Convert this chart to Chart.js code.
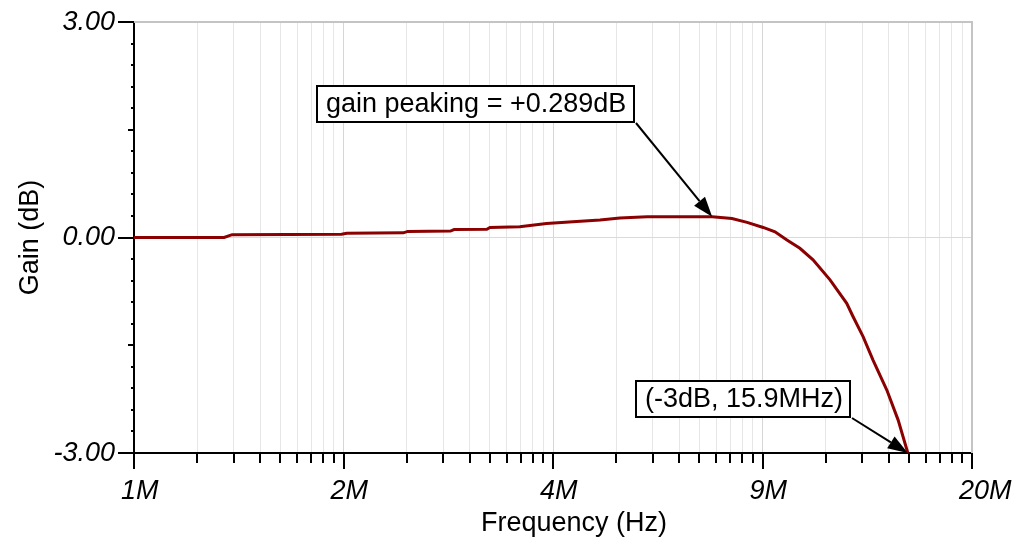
<!DOCTYPE html>
<html>
<head>
<meta charset="utf-8">
<script src="https://cdn.jsdelivr.net/npm/chart.js@4.4.1/dist/chart.umd.min.js"></script>
<style>
  html, body { margin: 0; padding: 0; background: #ffffff; }
  #wrap { width: 1025px; height: 544px; }
</style>
</head>
<body>
<div id="wrap"><canvas id="c" width="1025" height="544"></canvas></div>
<script>
// Closed-loop gain response (frequency in MHz, gain in dB)
const freqMHz = [1.00, 1.38, 1.42, 2.10, 2.14, 2.62, 2.66, 3.10, 3.14, 3.53, 3.57, 3.97,
                 4.37, 4.80, 5.29, 5.68, 6.26, 7.90, 8.48, 8.95, 9.48, 9.89, 10.32, 10.81,
                 11.33, 12.04, 12.78, 13.07, 13.55, 14.04, 14.75, 15.36, 15.90];
const gainDB  = [0.000, 0.000, 0.040, 0.045, 0.060, 0.065, 0.085, 0.090, 0.110, 0.115, 0.140, 0.150,
                 0.195, 0.220, 0.245, 0.270, 0.289, 0.289, 0.265, 0.210, 0.140, 0.080, -0.035, -0.150,
                 -0.310, -0.590, -0.916, -1.100, -1.380, -1.706, -2.124, -2.542, -3.000];

// Axis range and tick labels
const xMinMHz = 1, xMaxMHz = 20;
const xTickLabels = ['1M', '2M', '4M', '9M', '20M'];
const yMin = -3, yMax = 3;
const yTickLabels = ['3.00', '0.00', '-3.00'];
const yTickValues = [3, 0, -3];

// Annotated points
const peakMHz = 7.90, peakDB = 0.289;
const cutoffMHz = 15.9, cutoffDB = -3;

const FONT = "'Liberation Sans', Arial, Helvetica, sans-serif";
Chart.defaults.font.family = FONT;

// Frequency axis: four equal log divisions, each with 2..9 style sub-ticks
const divisions = xTickLabels.length - 1;
const divStep = Math.log10(xMaxMHz / xMinMHz) / divisions;
function buildFreqTicks() {
  const ticks = [];
  for (let k = 0; k <= divisions; k++) {
    ticks.push({ value: xMinMHz * Math.pow(10, k * divStep), major: true, labelIndex: k });
    if (k === divisions) break;
    for (let m = 2; m <= 9; m++) {
      ticks.push({ value: xMinMHz * Math.pow(10, (k + Math.log10(m)) * divStep), major: false });
    }
  }
  return ticks;
}
function buildGainTicks() {
  const ticks = [];
  for (let i = -10; i <= 10; i++) {
    const v = Math.round(i * 3) / 10;
    const idx = yTickValues.indexOf(v);
    ticks.push({ value: v, major: idx >= 0, labelIndex: idx });
  }
  return ticks;
}

function drawArrow(ctx, x0, y0, x1, y1) {
  const ang = Math.atan2(y1 - y0, x1 - x0);
  const headLen = 20, headHalf = 7;
  const bx = x1 - headLen * Math.cos(ang), by = y1 - headLen * Math.sin(ang);
  ctx.beginPath();
  ctx.moveTo(x0, y0);
  ctx.lineTo(bx, by);
  ctx.stroke();
  ctx.beginPath();
  ctx.moveTo(x1, y1);
  ctx.lineTo(bx + headHalf * Math.sin(ang), by - headHalf * Math.cos(ang));
  ctx.lineTo(bx - headHalf * Math.sin(ang), by + headHalf * Math.cos(ang));
  ctx.closePath();
  ctx.fill();
}

function drawLabelBox(ctx, text, x, y, w, h) {
  ctx.fillStyle = '#ffffff';
  ctx.fillRect(x, y, w, h);
  ctx.strokeStyle = '#000000';
  ctx.lineWidth = 2;
  ctx.strokeRect(x, y, w, h);
  ctx.fillStyle = '#000000';
  ctx.font = '27px ' + FONT;
  ctx.textAlign = 'left';
  ctx.textBaseline = 'middle';
  ctx.fillText(text, x + 9, y + h / 2 + 1);
}

const plotDecor = {
  id: 'plotDecor',
  beforeDatasetsDraw(chart) {
    const { ctx, chartArea: a } = chart;
    ctx.save();
    ctx.strokeStyle = '#c4c4c4';
    ctx.lineWidth = 2;
    ctx.beginPath();
    ctx.moveTo(a.left, a.top);
    ctx.lineTo(a.right, a.top);
    ctx.lineTo(a.right, a.bottom);
    ctx.stroke();
    ctx.restore();
  },
  afterDatasetsDraw(chart) {
    const { ctx, chartArea: a, scales: { x, y } } = chart;
    ctx.save();
    ctx.strokeStyle = '#000000';
    ctx.fillStyle = '#000000';
    ctx.lineWidth = 2;

    // tick marks on the frequency axis
    x.ticks.forEach(t => {
      const px = Math.round(x.getPixelForValue(t.value));
      const len = t.major ? 16 : 10;
      ctx.beginPath();
      ctx.moveTo(px, a.bottom);
      ctx.lineTo(px, a.bottom + len);
      ctx.stroke();
    });
    // tick marks on the gain axis
    y.ticks.forEach(t => {
      const py = Math.round(y.getPixelForValue(t.value));
      const len = t.major ? 16 : (Math.abs(Math.abs(t.value) - 1.5) < 1e-6 ? 6 : 3);
      ctx.beginPath();
      ctx.moveTo(a.left, py);
      ctx.lineTo(a.left - len, py);
      ctx.stroke();
    });

    // axis titles
    ctx.font = '27px ' + FONT;
    ctx.textAlign = 'center';
    ctx.textBaseline = 'middle';
    ctx.fillText('Frequency (Hz)', 574, 524);
    ctx.save();
    ctx.translate(31, (a.top + a.bottom) / 2);
    ctx.rotate(-Math.PI / 2);
    ctx.fillText('Gain (dB)', 0, 0);
    ctx.restore();

    // peak annotation
    const pkX = x.getPixelForValue(peakMHz), pkY = y.getPixelForValue(peakDB);
    drawArrow(ctx, 636, 123, pkX, pkY);
    drawLabelBox(ctx, 'gain peaking = +' + peakDB.toFixed(3) + 'dB', 317, 86, 317, 36);

    // -3 dB annotation
    const coX = x.getPixelForValue(cutoffMHz), coY = y.getPixelForValue(cutoffDB);
    ctx.strokeStyle = '#000000';
    ctx.fillStyle = '#000000';
    ctx.lineWidth = 2;
    drawArrow(ctx, 852, 418, coX, coY);
    drawLabelBox(ctx, '(' + cutoffDB + 'dB, ' + cutoffMHz.toFixed(1) + 'MHz)', 636, 381, 214, 36);

    ctx.restore();
  }
};

new Chart(document.getElementById('c'), {
  type: 'line',
  data: {
    datasets: [{
      data: freqMHz.map((f, i) => ({ x: f, y: gainDB[i] })),
      borderColor: '#8b0000',
      borderWidth: 3,
      pointRadius: 0,
      tension: 0,
      fill: false
    }]
  },
  options: {
    responsive: false,
    animation: false,
    events: [],
    layout: { padding: { left: 0, top: 22, right: 53, bottom: 0 } },
    plugins: { legend: { display: false }, tooltip: { enabled: false } },
    scales: {
      x: {
        type: 'logarithmic',
        position: 'bottom',
        min: xMinMHz,
        max: xMaxMHz,
        afterBuildTicks: s => { s.ticks = buildFreqTicks(); },
        afterFit: s => { s.height = 91; s.paddingLeft = 0; s.paddingRight = 0; },
        border: { display: true, color: '#000000', width: 2 },
        grid: {
          color: c => (c.tick && c.tick.major) ? '#d6d6d6' : '#e6e6e6',
          lineWidth: 1,
          drawTicks: true,
          tickLength: 16,
          tickColor: 'rgba(0,0,0,0)'
        },
        ticks: {
          autoSkip: false,
          maxRotation: 0,
          minRotation: 0,
          align: 'start',
          labelOffset: -13,
          padding: 6,
          color: '#000000',
          font: { size: 27, style: 'italic' },
          callback: (v, i, ticks) => ticks[i].major ? xTickLabels[ticks[i].labelIndex] : ''
        }
      },
      y: {
        type: 'linear',
        min: yMin,
        max: yMax,
        afterBuildTicks: s => { s.ticks = buildGainTicks(); },
        afterFit: s => { s.width = 134; s.paddingTop = 0; s.paddingBottom = 0; },
        border: { display: true, color: '#000000', width: 2 },
        grid: {
          color: c => (c.tick && c.tick.value === 0) ? '#dadada' : 'rgba(0,0,0,0)',
          lineWidth: 1,
          drawTicks: true,
          tickLength: 16,
          tickColor: 'rgba(0,0,0,0)'
        },
        ticks: {
          autoSkip: false,
          padding: 3,
          color: '#000000',
          font: { size: 27, style: 'italic' },
          callback: (v, i, ticks) => ticks[i].major ? yTickLabels[ticks[i].labelIndex] : ''
        }
      }
    }
  },
  plugins: [plotDecor]
});
</script>
</body>
</html>
